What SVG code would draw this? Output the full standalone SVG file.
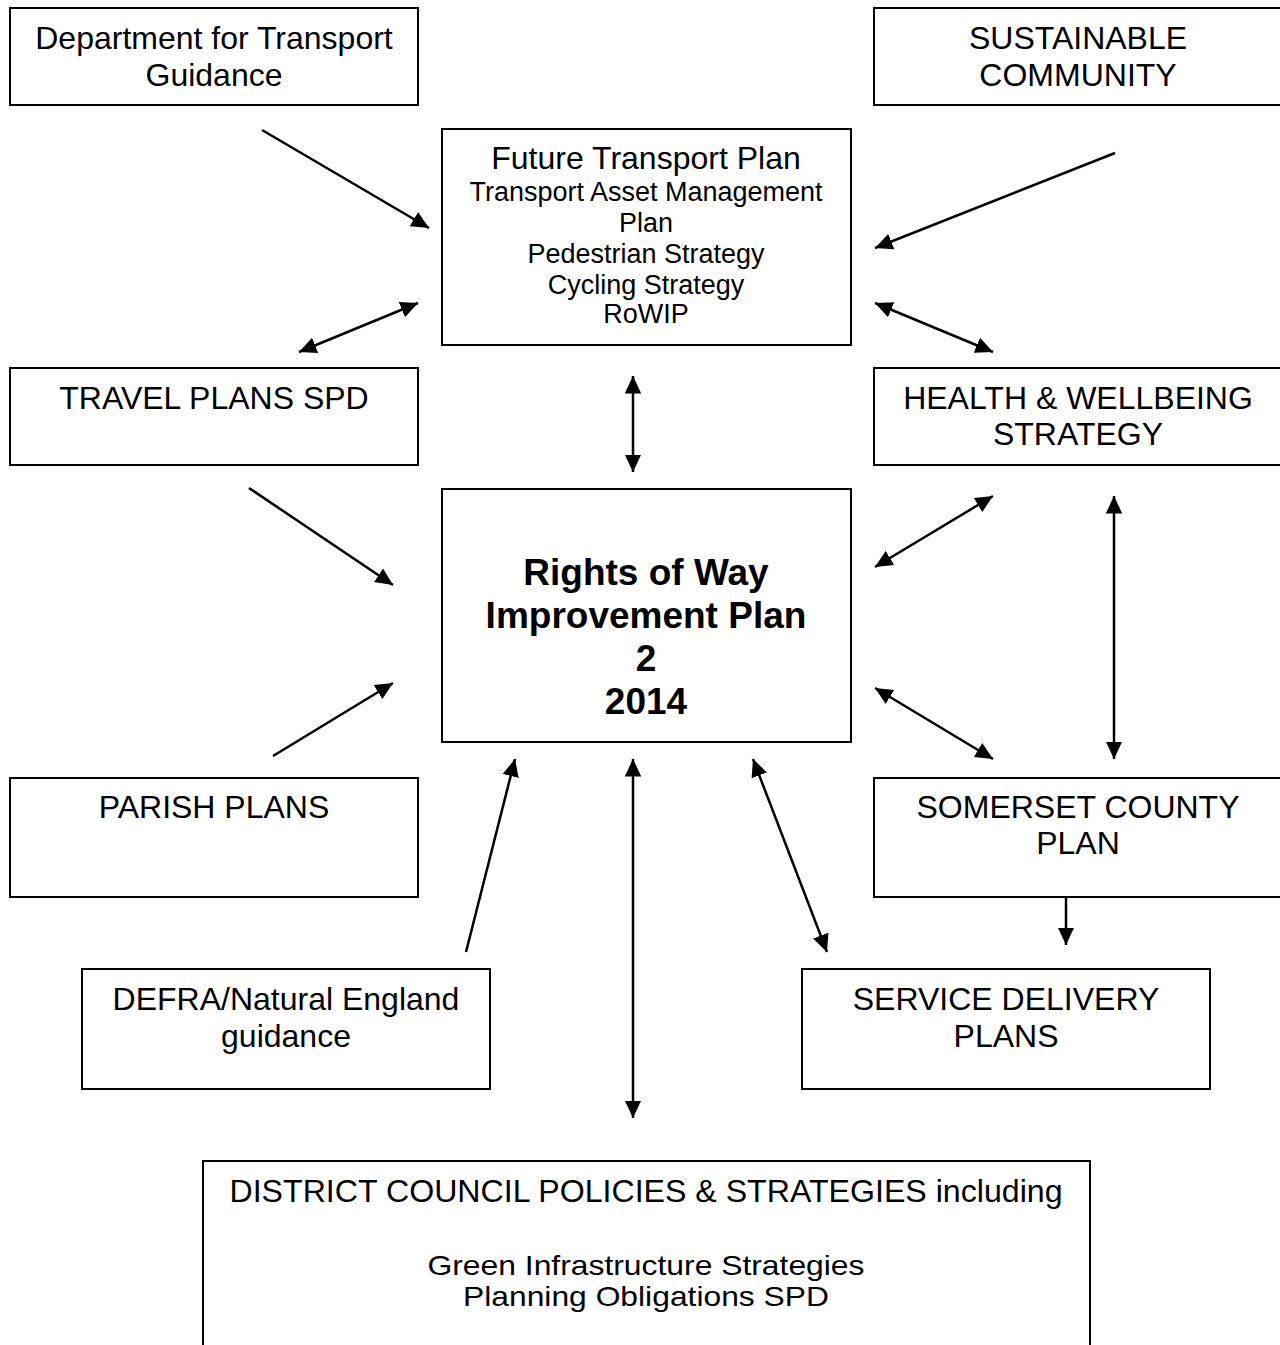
<svg xmlns="http://www.w3.org/2000/svg" width="1280" height="1345" viewBox="0 0 1280 1345">
<style>
.box{fill:#fff;stroke:#000;stroke-width:2}
.t{font-family:"Liberation Sans",Arial,sans-serif;font-size:32px;fill:#000;text-anchor:middle}
.s{font-size:27px}
.d{font-size:28px}
.b{font-weight:bold;font-size:37px}
.c{stroke:#000;stroke-width:2.5;fill:none}
</style>
<defs>
<marker id="ah" viewBox="0 0 10 10" refX="10" refY="5" markerWidth="7" markerHeight="7" markerUnits="strokeWidth" orient="auto-start-reverse">
<path d="M0,0.3 L10,5 L0,9.7 Z" fill="#000"/>
</marker>
</defs>
<rect width="1280" height="1345" fill="#fff"/>
<g id="dft"><rect class="box" x="10" y="8" width="408" height="97"/><text class="t" x="214" y="49">Department for Transport</text><text class="t" x="214" y="86">Guidance</text></g>
<g id="sust"><rect class="box" x="874" y="8" width="408" height="97"/><text class="t" x="1078" y="49">SUSTAINABLE</text><text class="t" x="1078" y="86">COMMUNITY</text></g>
<g id="ftp"><rect class="box" x="442" y="129" width="409" height="216"/><text class="t" x="646" y="169">Future Transport Plan</text><text class="t s" x="646" y="201">Transport Asset Management</text><text class="t s" x="646" y="232">Plan</text><text class="t s" x="646" y="263">Pedestrian Strategy</text><text class="t s" x="646" y="294">Cycling Strategy</text><text class="t s" x="646" y="323">RoWIP</text></g>
<g id="travel"><rect class="box" x="10" y="368" width="408" height="97"/><text class="t" x="214" y="409">TRAVEL PLANS SPD</text></g>
<g id="health"><rect class="box" x="874" y="368" width="408" height="97"/><text class="t" x="1078" y="409">HEALTH &amp; WELLBEING</text><text class="t" x="1078" y="445">STRATEGY</text></g>
<g id="rowip"><rect class="box" x="442" y="489" width="409" height="253"/><text class="t b" x="646" y="585">Rights of Way</text><text class="t b" x="646" y="628">Improvement Plan</text><text class="t b" x="646" y="671">2</text><text class="t b" x="646" y="714">2014</text></g>
<g id="parish"><rect class="box" x="10" y="778" width="408" height="119"/><text class="t" x="214" y="818">PARISH PLANS</text></g>
<g id="somerset"><rect class="box" x="874" y="778" width="408" height="119"/><text class="t" x="1078" y="818">SOMERSET COUNTY</text><text class="t" x="1078" y="854">PLAN</text></g>
<g id="defra"><rect class="box" x="82" y="969" width="408" height="120"/><text class="t" x="286" y="1010">DEFRA/Natural England</text><text class="t" x="286" y="1047">guidance</text></g>
<g id="service"><rect class="box" x="802" y="969" width="408" height="120"/><text class="t" x="1006" y="1010">SERVICE DELIVERY</text><text class="t" x="1006" y="1047">PLANS</text></g>
<g id="district"><rect class="box" x="203" y="1161" width="887" height="200"/><text class="t" x="646" y="1202" textLength="833" lengthAdjust="spacingAndGlyphs">DISTRICT COUNCIL POLICIES &amp; STRATEGIES including</text><text class="t d" x="646" y="1275" textLength="437" lengthAdjust="spacingAndGlyphs">Green Infrastructure Strategies</text><text class="t d" x="646" y="1306" textLength="366" lengthAdjust="spacingAndGlyphs">Planning Obligations SPD</text></g>
<g id="connectors">
<line class="c" x1="262" y1="130" x2="429" y2="228" marker-end="url(#ah)"/>
<line class="c" x1="299" y1="352" x2="418" y2="303" marker-start="url(#ah)" marker-end="url(#ah)"/>
<line class="c" x1="1115" y1="153" x2="875" y2="248" marker-end="url(#ah)"/>
<line class="c" x1="875" y1="303" x2="993" y2="352" marker-start="url(#ah)" marker-end="url(#ah)"/>
<line class="c" x1="633" y1="376" x2="633" y2="472" marker-start="url(#ah)" marker-end="url(#ah)"/>
<line class="c" x1="249" y1="488" x2="393" y2="585" marker-end="url(#ah)"/>
<line class="c" x1="273" y1="756" x2="393" y2="683" marker-end="url(#ah)"/>
<line class="c" x1="875" y1="567" x2="993" y2="496" marker-start="url(#ah)" marker-end="url(#ah)"/>
<line class="c" x1="875" y1="688" x2="993" y2="759" marker-start="url(#ah)" marker-end="url(#ah)"/>
<line class="c" x1="1114" y1="496" x2="1114" y2="759" marker-start="url(#ah)" marker-end="url(#ah)"/>
<line class="c" x1="466" y1="952" x2="515" y2="759" marker-end="url(#ah)"/>
<line class="c" x1="633" y1="759" x2="633" y2="1118" marker-start="url(#ah)" marker-end="url(#ah)"/>
<line class="c" x1="753" y1="759" x2="827" y2="952" marker-start="url(#ah)" marker-end="url(#ah)"/>
<line class="c" x1="1066" y1="897" x2="1066" y2="945" marker-end="url(#ah)"/>
</g>
</svg>
